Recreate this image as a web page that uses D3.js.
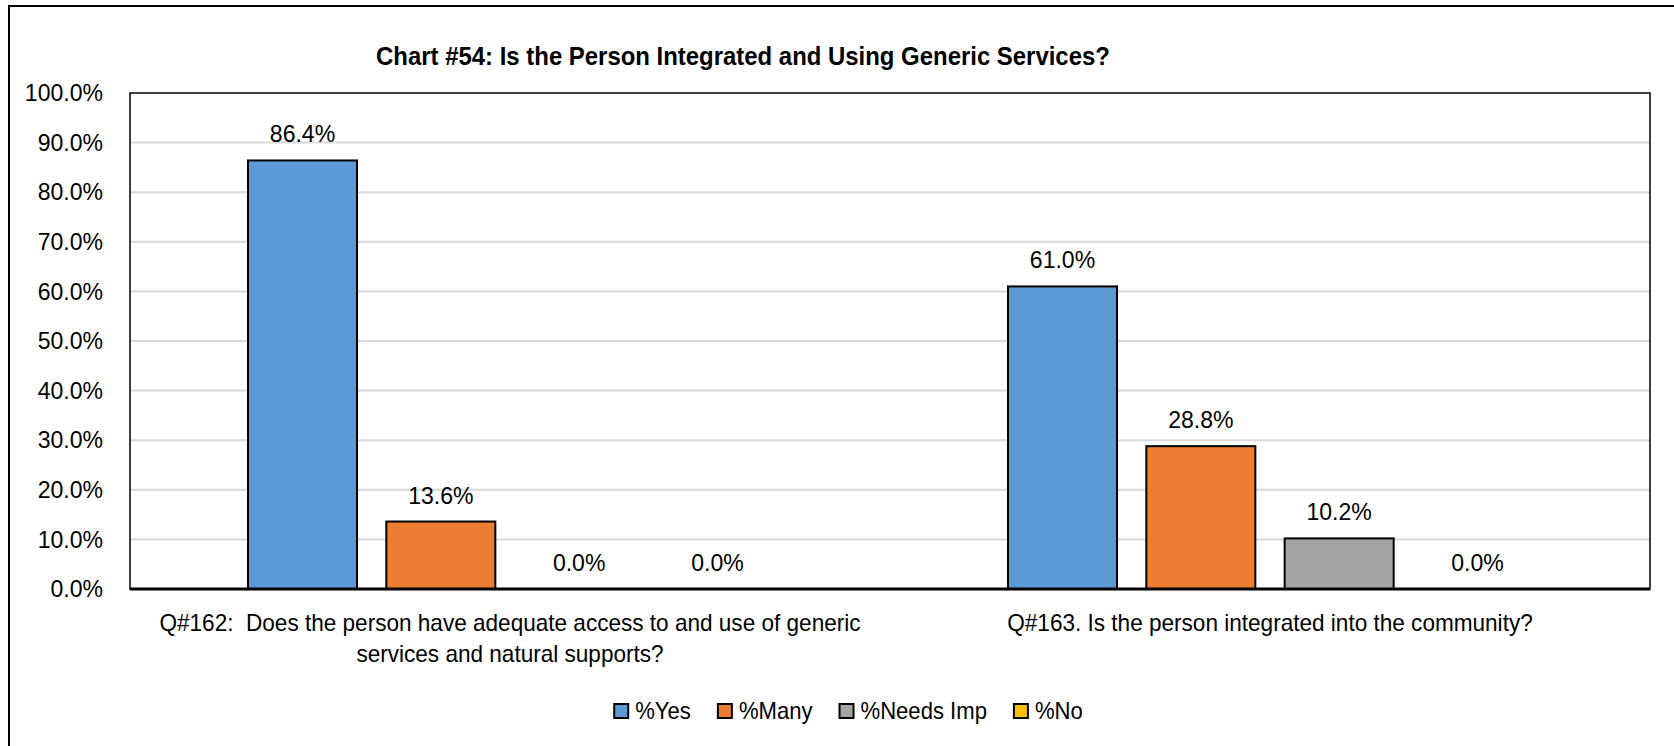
<!DOCTYPE html>
<html>
<head>
<meta charset="utf-8">
<script src="https://cdn.jsdelivr.net/npm/d3@7/dist/d3.min.js"></script>
<style>
    body { margin: 0; background: #fff; }
    text { font-family: "Liberation Sans Narrow", "Arial Narrow", "Liberation Sans", Arial, sans-serif; fill: #000; white-space: pre; }
</style>
</head>
<body>
<div class="chart-main"></div>
<script>

//////////
// DATA //
//////////

var chartTitle = 'Chart #54: Is the Person Integrated and Using Generic Services?';

var categories = ['Q162', 'Q163'];
var categoryLines = [
    ['Q#162:  Does the person have adequate access to and use of generic', 'services and natural supports?'],
    ['Q#163. Is the person integrated into the community?']
];

var seriesNames = ['%Yes', '%Many', '%Needs Imp', '%No'];

var yesValues = [86.4, 61.0];
var manyValues = [13.6, 28.8];
var needsImpValues = [0.0, 10.2];
var noValues = [0.0, 0.0];

var yTicks = [0, 10, 20, 30, 40, 50, 60, 70, 80, 90, 100];

// table for the chart
var seriesValues = [yesValues, manyValues, needsImpValues, noValues];
var rows = categories.map(function(c, i) {
    return {
        category: c,
        lines: categoryLines[i],
        values: seriesNames.map(function(s, j) { return { series: s, value: seriesValues[j][i] }; })
    };
});

// squeeze text a bit, the original font is a narrow one
function condense(sel, k) {
    sel.each(function() {
        var len = this.getComputedTextLength();
        d3.select(this)
            .attr('textLength', len * k)
            .attr('lengthAdjust', 'spacingAndGlyphs');
    });
}

//////////////////
// CREATING SVG //
//////////////////

var w = 1674,
    h = 746;

var svg = d3.select('.chart-main')
    .append('svg')
    .attr('width', w)
    .attr('height', h);

// outer frame (runs off the right and bottom edges)
svg.append('rect')
    .attr('x', 9)
    .attr('y', 6)
    .attr('width', w + 20)
    .attr('height', h + 20)
    .attr('fill', 'none')
    .attr('stroke', '#000')
    .attr('stroke-width', 2);

var plot = { left: 130, right: 1650, top: 93, bottom: 589 };

////////////
// SCALES //
////////////

var x0 = d3.scaleBand()
    .domain(categories)
    .range([plot.left, plot.right])
    .padding(0);

var groupPad = 118;

var x1 = d3.scaleBand()
    .domain(seriesNames)
    .range([groupPad, x0.bandwidth() - groupPad])
    .paddingInner(0.212)
    .paddingOuter(0);

var y = d3.scaleLinear()
    .domain([0, 100])
    .range([plot.bottom, plot.top]);

var color = d3.scaleOrdinal()
    .domain(seriesNames)
    .range(['#5b9bd5', '#ed7d31', '#a5a5a5', '#ffc000']);

///////////
// TITLE //
///////////

svg.append('text')
    .attr('x', 743)
    .attr('y', 65)
    .attr('text-anchor', 'middle')
    .style('font-size', '26px')
    .style('font-weight', 'bold')
    .text(chartTitle)
    .call(condense, 0.92);

//////////
// GRID //
//////////

svg.append('g')
    .attr('class', 'grid')
    .selectAll('line')
    .data(yTicks.filter(function(t) { return t > 0 && t < 100; }))
    .enter()
    .append('line')
    .attr('x1', plot.left)
    .attr('x2', plot.right)
    .attr('y1', function(d) { return y(d); })
    .attr('y2', function(d) { return y(d); })
    .attr('stroke', '#d9d9d9')
    .attr('stroke-width', 2);

////////////
// Y AXIS //
////////////

var yAxis = d3.axisLeft(y)
    .tickValues(yTicks)
    .tickSize(0)
    .tickPadding(27)
    .tickFormat(function(d) { return d3.format('.1f')(d) + '%'; });

var yG = svg.append('g')
    .attr('transform', 'translate(' + plot.left + ',0)')
    .call(yAxis);

yG.select('.domain').remove();
yG.selectAll('text')
    .style('font-size', '24px')
    .style('font-family', null)
    .call(condense, 0.96);

//////////
// BARS //
//////////

var groups = svg.selectAll('.group')
    .data(rows)
    .enter()
    .append('g')
    .attr('class', 'group')
    .attr('transform', function(d) { return 'translate(' + x0(d.category) + ',0)'; });

groups.selectAll('rect')
    .data(function(d) { return d.values; })
    .enter()
    .append('rect')
    .attr('x', function(d) { return x1(d.series); })
    .attr('y', function(d) { return y(d.value); })
    .attr('width', x1.bandwidth())
    .attr('height', function(d) { return y(0) - y(d.value); })
    .attr('fill', function(d) { return color(d.series); })
    .attr('stroke', '#000')
    .attr('stroke-width', function(d) { return d.value > 0 ? 2 : 0; });

// value labels
groups.selectAll('.label')
    .data(function(d) { return d.values; })
    .enter()
    .append('text')
    .attr('class', 'label')
    .attr('x', function(d) { return x1(d.series) + x1.bandwidth() / 2; })
    .attr('y', function(d) { return y(d.value) - 18; })
    .attr('text-anchor', 'middle')
    .style('font-size', '24px')
    .text(function(d) { return d3.format('.1f')(d.value) + '%'; })
    .call(condense, 0.96);

/////////////////
// PLOT BORDER //
/////////////////

svg.append('rect')
    .attr('x', plot.left)
    .attr('y', plot.top)
    .attr('width', plot.right - plot.left)
    .attr('height', plot.bottom - plot.top)
    .attr('fill', 'none')
    .attr('stroke', '#000')
    .attr('stroke-width', 1.5);

svg.append('line')
    .attr('x1', plot.left)
    .attr('x2', plot.right)
    .attr('y1', y(0))
    .attr('y2', y(0))
    .attr('stroke', '#000')
    .attr('stroke-width', 3);

/////////////////////
// CATEGORY LABELS //
/////////////////////

svg.selectAll('.cat')
    .data(rows)
    .enter()
    .append('text')
    .attr('class', 'cat')
    .attr('text-anchor', 'middle')
    .style('font-size', '24px')
    .each(function(d) {
        var cx = x0(d.category) + x0.bandwidth() / 2;
        d3.select(this).selectAll('tspan')
            .data(d.lines)
            .enter()
            .append('tspan')
            .attr('x', cx)
            .attr('y', function(l, i) { return 631 + i * 31; })
            .text(function(l) { return l; });
    });

svg.selectAll('.cat tspan').call(condense, 0.94);

////////////
// LEGEND //
////////////

var legend = svg.append('g').attr('class', 'legend');
var lx = 0;

seriesNames.forEach(function(s) {
    var item = legend.append('g').attr('transform', 'translate(' + lx + ',0)');
    item.append('rect')
        .attr('x', 1)
        .attr('y', -7)
        .attr('width', 14)
        .attr('height', 14)
        .attr('fill', color(s))
        .attr('stroke', '#000')
        .attr('stroke-width', 2);
    var t = item.append('text')
        .attr('x', 22)
        .attr('y', 8)
        .style('font-size', '24px')
        .text(s)
        .call(condense, 0.92);
    lx += 22 + +t.attr('textLength') + 26;
});

var legendW = lx - 26;
legend.attr('transform', 'translate(' + (848 - legendW / 2) + ',711)');

</script>
</body>
</html>
